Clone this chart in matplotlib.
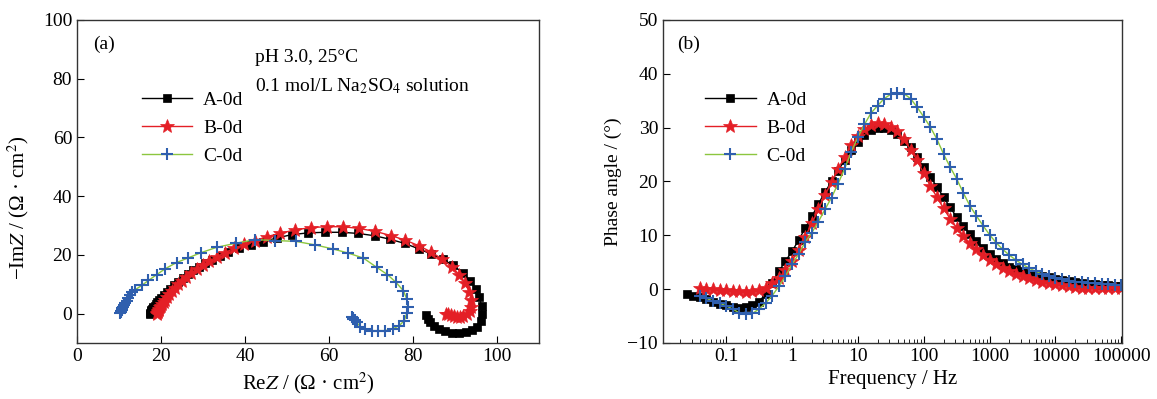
import numpy as np
import matplotlib
matplotlib.use('Agg')
import matplotlib.pyplot as plt

plt.rcParams['font.family'] = ['Liberation Serif', 'DejaVu Serif']
plt.rcParams['mathtext.fontset'] = 'stix'

# ---------------- Nyquist data (Z', -Z'') ----------------
a_re = [17.3, 17.4, 17.5, 17.6, 17.7, 17.85, 18.0, 18.2, 18.45, 18.75, 19.1, 19.5, 20.0, 20.6,
        21.3, 22.1, 23.0, 24.0, 25.2, 26.4, 27.7, 29.0, 30.5, 32.2, 34.0, 36.0, 38.6, 41.3, 44.3,
        47.6, 51.2, 55.0, 59.0, 63.0, 67.0, 70.9, 74.6, 78.0, 81.3, 84.3, 87.1, 89.6, 91.8, 93.6,
        94.9, 95.8, 96.3, 96.4, 96.1, 95.3, 94.1, 92.6, 90.9, 89.2, 87.6, 86.2, 85.0, 84.1, 83.5, 83.2]
a_im = [0.0, 0.3, 0.6, 0.9, 1.2, 1.5, 1.8, 2.2, 2.7, 3.3, 3.9, 4.6, 5.4, 6.3,
        7.3, 8.4, 9.6, 10.9, 12.3, 13.5, 14.7, 15.9, 17.1, 18.4, 19.7, 21.0, 22.3, 23.4, 24.5,
        25.8, 26.9, 27.5, 27.7, 27.7, 27.3, 26.5, 25.3, 23.9, 22.1, 20.3, 18.5, 16.4, 13.9, 11.2,
        8.4, 5.5, 2.6, -0.2, -2.6, -4.4, -5.7, -6.4, -6.6, -6.5, -6.0, -5.2, -4.2, -3.0, -1.8, -0.6]

b_re = [19.0, 19.1, 19.2, 19.3, 19.45, 19.6, 19.8, 20.0, 20.3, 20.6, 21.0, 21.5, 22.0, 22.6,
        23.3, 24.1, 25.0, 26.0, 27.2, 28.5, 29.9, 31.5, 33.3, 35.2, 37.4, 39.8, 42.4, 45.2, 48.4,
        51.9, 55.6, 59.4, 63.3, 67.2, 71.0, 74.7, 78.2, 81.4, 84.3, 86.9, 89.2, 91.0, 92.4, 93.4,
        93.9, 93.9, 93.5, 92.8, 92.0, 91.2, 90.4, 89.7, 89.0, 88.4, 87.9]
b_im = [0.0, 0.3, 0.6, 0.9, 1.3, 1.7, 2.2, 2.7, 3.3, 4.0, 4.8, 5.7, 6.7, 7.7,
        8.8, 10.0, 11.2, 12.5, 13.8, 15.1, 16.5, 17.9, 19.4, 20.8, 22.2, 23.6, 24.9, 26.2, 27.4,
        28.5, 29.3, 29.6, 29.6, 29.0, 28.0, 26.6, 25.0, 23.1, 21.0, 18.6, 16.0, 13.2, 10.3, 7.4,
        4.7, 2.4, 0.8, -0.3, -0.8, -1.0, -1.0, -0.8, -0.6, -0.3, 0.0]

c_re = [10.2, 10.35, 10.5, 10.65, 10.8, 11.0, 11.2, 11.5, 11.8, 12.2, 12.7, 13.2, 13.8, 15.4,
        17.0, 19.0, 21.0, 23.7, 26.5, 29.4, 33.3, 37.9, 42.4, 47.1, 52.1, 56.7, 61.0, 64.6, 68.2,
        71.3, 73.9, 75.9, 77.7, 78.5, 78.7, 78.5, 77.9, 76.7, 75.2, 73.3, 71.7, 70.2, 68.6, 67.4,
        66.6, 66.1, 65.8, 65.6, 65.4]
c_im = [0.2, 0.6, 1.0, 1.4, 1.9, 2.4, 3.0, 3.7, 4.4, 5.3, 6.3, 7.2, 8.1, 9.6,
        11.3, 13.3, 15.3, 17.4, 19.0, 20.7, 22.6, 24.0, 25.2, 24.9, 24.6, 23.4, 22.0, 20.6, 18.9,
        15.8, 13.3, 10.7, 7.8, 5.0, 2.4, 0.1, -2.4, -4.1, -5.2, -5.8, -5.8, -5.8, -5.2, -4.4,
        -3.0, -2.3, -1.8, -1.5, -1.3]

# ---------------- Bode phase data ----------------
freq = [0.0251, 0.0316, 0.0398, 0.0501, 0.0631, 0.0794,
        0.1, 0.126, 0.158, 0.2, 0.251, 0.316, 0.398, 0.501, 0.631, 0.794,
        1, 1.26, 1.58, 2.0, 2.51, 3.16, 3.98, 5.01, 6.31, 7.94,
        10, 12.6, 15.8, 20, 25.1, 31.6, 39.8, 50.1, 63.1, 79.4,
        100, 126, 158, 200, 251, 316, 398, 501, 631, 794,
        1000, 1260, 1580, 2000, 2510, 3160, 3980, 5010, 6310, 7940,
        10000, 12600, 15800, 20000, 25100, 31600, 39800, 50100, 63100, 79400,
        100000]
freq_bc = freq[2:]

a_phase = [-0.9, -1.2, -1.5, -1.9, -2.3, -2.7, -3.0, -3.3, -3.5, -3.4, -3.0, -2.3, -0.9, 1.2,
           3.3, 5.2, 7.0, 9.1, 11.3, 13.5, 15.8, 18.0, 20.0, 22.0, 24.0, 25.9, 27.4, 28.6, 29.5,
           30.0, 30.0, 29.6, 28.8, 27.6, 26.4, 24.5, 22.6, 20.9, 19.0, 17.1, 15.2, 13.4, 11.8,
           10.3, 8.9, 7.7, 6.6, 5.6, 4.9, 4.2, 3.7, 3.3, 2.9, 2.6, 2.4, 2.2, 1.9, 1.7, 1.5, 1.3,
           1.1, 1.0, 0.9, 0.8, 0.7, 0.6, 0.5]
b_phase = [0.2, 0.1, 0.0, -0.1, -0.2, -0.3, -0.4, -0.5, -0.4, -0.2, 0.3, 1.1, 2.0, 3.5,
           5.3, 7.3, 9.7, 12.2, 14.8, 17.4, 19.9, 22.3, 24.6, 26.7, 28.4, 29.7, 30.5, 30.8, 30.7,
           30.2, 29.3, 27.8, 25.9, 23.9, 21.5, 19.2, 17.1, 15.0, 13.1, 11.4, 9.9, 8.5, 7.4, 6.3,
           5.4, 4.7, 4.0, 3.4, 2.8, 2.4, 2.0, 1.7, 1.4, 1.1, 0.9, 0.7, 0.5, 0.4, 0.3, 0.3, 0.2,
           0.2, 0.2, 0.2, 0.2]
c_phase = [-1.3, -1.7, -2.2, -2.6, -3.1, -3.7, -4.4, -4.7, -4.5, -3.7, -2.6, -1.2, 0.5, 2.4,
           4.6, 6.5, 8.7, 10.5, 12.5, 14.8, 17.0, 19.6, 22.4, 25.5, 28.2, 30.6, 32.7, 34.1, 35.4,
           36.2, 36.5, 36.3, 35.4, 33.8, 32.0, 30.1, 27.9, 25.1, 22.7, 20.5, 17.9, 15.5, 13.6,
           11.8, 10.1, 8.6, 7.4, 6.3, 5.4, 4.6, 3.9, 3.3, 2.8, 2.4, 2.1, 1.8, 1.6, 1.4, 1.3, 1.2,
           1.1, 1.0, 0.9, 0.8, 0.7]

labels = ['A-0d', 'B-0d', 'C-0d']
line_colors = ['black', '#e41f26', '#8cc63f']
marker_colors = ['black', '#e41f26', '#2f5fae']
markers = ['s', '*', '+']
msizes = [6, 10, 8]

fig = plt.figure(figsize=(11.57, 3.99), dpi=100)
ax1 = fig.add_axes([0.0666, 0.1404, 0.3993, 0.8095])
ax2 = fig.add_axes([0.5730, 0.1404, 0.3967, 0.8095])

nyq = [(a_re, a_im), (b_re, b_im), (c_re, c_im)]
for (zr, zi), lab, lc, mc, mk, ms in zip(nyq, labels, line_colors, marker_colors, markers, msizes):
    ax1.plot(zr, zi, color=lc, lw=1, marker=mk, ms=ms, mfc=mc, mec=mc,
             mew=1.5 if mk == '+' else 0.5, label=lab)

bode = [(freq, a_phase), (freq_bc, b_phase), (freq_bc, c_phase)]
for (f, ph), lab, lc, mc, mk, ms in zip(bode, labels, line_colors, marker_colors, markers, msizes):
    ax2.plot(f, ph, color=lc, lw=1, marker=mk, ms=ms, mfc=mc, mec=mc,
             mew=1.5 if mk == '+' else 0.5, label=lab)

fs = 14
ax1.set_xlim(0, 110)
ax1.set_ylim(-10, 100)
ax1.set_xticks([0, 20, 40, 60, 80, 100])
ax1.set_yticks([0, 20, 40, 60, 80, 100])
ax1.set_xlabel(r'Re$Z$ / (Ω · cm$^2$)', fontsize=fs + 1)
ax1.set_ylabel(r'−Im$Z$ / (Ω · cm$^2$)', fontsize=fs + 1)
ax1.yaxis.set_label_coords(-0.1, 0.42)
ax1.text(0.035, 0.925, '(a)', transform=ax1.transAxes, fontsize=fs, va='center')
ax1.text(0.385, 0.885, 'pH 3.0, 25°C', transform=ax1.transAxes, fontsize=fs, va='center')
ax1.text(0.385, 0.795, r'0.1 mol/L Na$_2$SO$_4$ solution', transform=ax1.transAxes,
         fontsize=fs, va='center')

ax2.set_xscale('log')
ax2.set_xlim(0.011, 1.02e5)
ax2.set_ylim(-10, 50)
ax2.set_xticks([0.1, 1, 10, 100, 1000, 10000, 100000])
ax2.set_xticklabels(['0.1', '1', '10', '100', '1000', '10000', '100000'])
ax2.set_yticks([-10, 0, 10, 20, 30, 40, 50])
ax2.set_xlabel('Frequency / Hz', fontsize=fs + 1)
ax2.set_ylabel('Phase angle / (°)', fontsize=fs)
ax2.text(0.03, 0.925, '(b)', transform=ax2.transAxes, fontsize=fs, va='center')

for ax, x0 in [(ax1, 0.14), (ax2, 0.092)]:
    ax.tick_params(which='both', direction='in', top=False, right=False, labelsize=fs)
    ax.tick_params(which='major', length=5)
    ax.tick_params(which='minor', length=3)
    for sp in ax.spines.values():
        sp.set_color('#333333')
        sp.set_linewidth(1.0)
    ax.legend(loc='upper left', bbox_to_anchor=(x0, 0.778), frameon=False, fontsize=fs,
              handlelength=2.6, handletextpad=0.55, labelspacing=0.53, borderaxespad=0,
              borderpad=0)

fig.savefig('out.png', dpi=100)
